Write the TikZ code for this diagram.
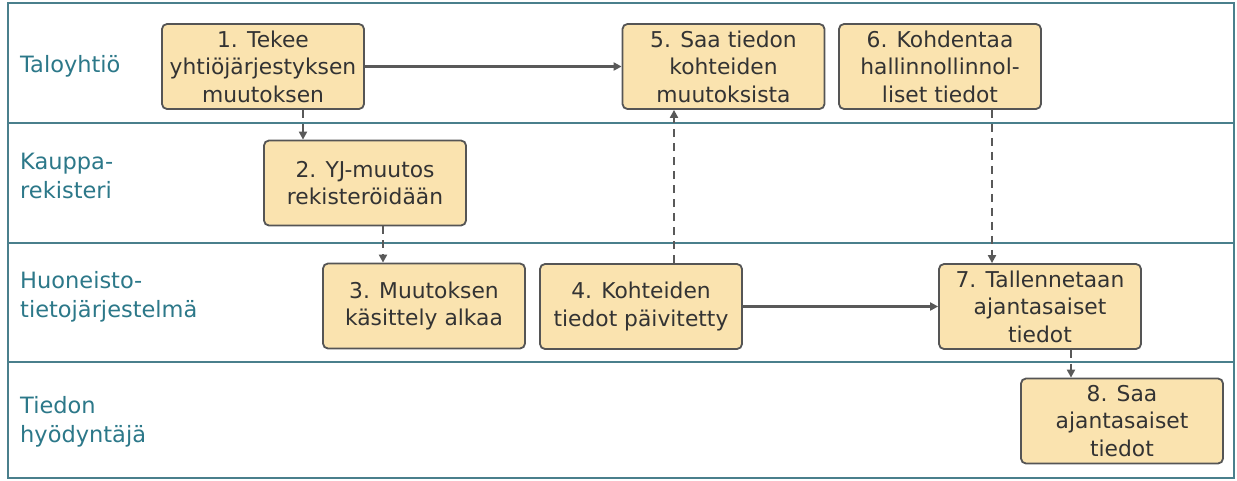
\documentclass[tikz,border=0pt]{standalone}
\usepackage{fontspec}
\setmainfont{DejaVu Sans}
\usetikzlibrary{arrows.meta}
\definecolor{lanecol}{HTML}{4A7F8C}
\definecolor{lanetext}{HTML}{2C7889}
\definecolor{boxfill}{HTML}{FAE3AF}
\definecolor{boxline}{HTML}{555555}
\definecolor{flowcol}{HTML}{595959}
\definecolor{inktext}{HTML}{333333}
\tikzset{
  stepbox/.style={draw=boxline, line width=1.8pt, fill=boxfill, rounded corners=5pt,
    minimum width=202pt, minimum height=85pt, inner sep=2pt, align=center,
    text=inktext, font=\fontsize{21.8}{27.5}\selectfont},
  lanelabel/.style={anchor=west, align=left, text=lanetext, inner sep=0pt,
    font=\fontsize{22.5}{28.5}\selectfont},
  flow/.style={draw=flowcol, line width=2.2pt, -{Triangle[length=8pt,width=8pt]}},
  dashflow/.style={flow, dash pattern=on 8pt off 6pt},
  laneline/.style={lanecol, line width=2.4pt},
}
\begin{document}
\begin{tikzpicture}[x=1pt,y=-1pt]
\useasboundingbox (0,0) rectangle (1237,480);
\fill[white] (0,0) rectangle (1237,480);

% swimlane frame
\draw[laneline] (8,3) rectangle (1234,478);
\draw[laneline] (8,123) -- (1234,123);
\draw[laneline] (8,243) -- (1234,243);
\draw[laneline] (8,362) -- (1234,362);

% lane titles
\node[lanelabel] (l1) at (20,66) {Taloyhtiö};
\node[lanelabel] (l2) at (20,176) {Kauppa-\\rekisteri};
\node[lanelabel] (l3) at (20,297) {Huoneisto-\\tietojärjestelmä};
\node[lanelabel] (l4) at (20,422) {Tiedon\\hyödyntäjä};

% process steps
\node[stepbox] (b1) at (263,66.5) {1. Tekee\\yhtiöjärjestyksen\\muutoksen};
\node[stepbox] (b2) at (365,183) {2. YJ-muutos\\rekisteröidään};
\node[stepbox] (b3) at (424,306) {3. Muutoksen\\käsittely alkaa};
\node[stepbox] (b4) at (641,306.5) {4. Kohteiden\\tiedot päivitetty};
\node[stepbox] (b5) at (723.5,66.5) {5. Saa tiedon\\kohteiden\\muutoksista};
\node[stepbox] (b6) at (940,66.5) {6. Kohdentaa\\hallinnollinnol-\\liset tiedot};
\node[stepbox] (b7) at (1040,306.5) {7. Tallennetaan\\ajantasaiset\\tiedot};
\node[stepbox] (b8) at (1122,421) {8. Saa\\ajantasaiset\\tiedot};

% connectors
\draw[flow] (b1.east) -- (b5.west);
\draw[flow] (b4.east) -- (b7.west);
\draw[dashflow] ([xshift=40pt]b1.south) -- ([xshift=-62pt]b2.north);
\draw[dashflow] ([xshift=18pt]b2.south) -- ([xshift=-41pt]b3.north);
\draw[dashflow] ([xshift=33pt]b4.north) -- ([xshift=-49.5pt]b5.south);
\draw[dashflow] ([xshift=52pt]b6.south) -- ([xshift=-48pt]b7.north);
\draw[dashflow] ([xshift=31pt]b7.south) -- ([xshift=-51pt]b8.north);
\end{tikzpicture}
\end{document}
